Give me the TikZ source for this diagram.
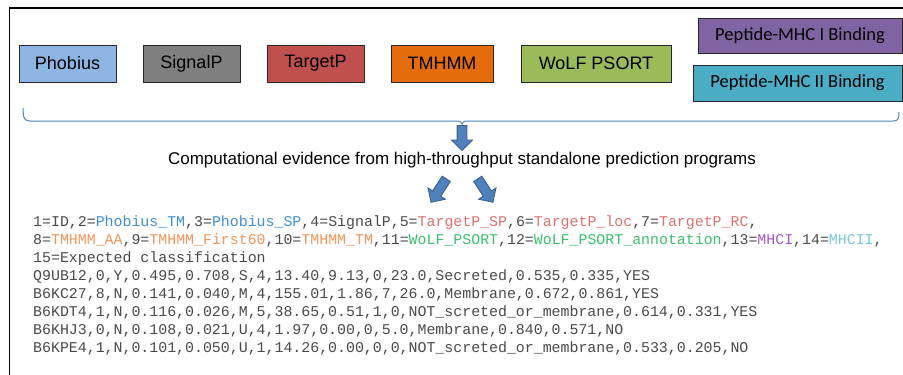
\documentclass[tikz,border=0pt]{standalone}
\usepackage{fontspec}
\setmainfont{Liberation Sans}
\newfontfamily\calfont{Carlito}
\newfontfamily\codefont{Liberation Mono}
\usetikzlibrary{positioning,shapes.arrows}
\definecolor{phobfill}{HTML}{8DB4E2}
\definecolor{sigfill}{HTML}{7F7F7F}
\definecolor{targfill}{HTML}{C0504D}
\definecolor{tmhfill}{HTML}{E46C0A}
\definecolor{wolffill}{HTML}{9BBB59}
\definecolor{mhcifill}{HTML}{8064A2}
\definecolor{mhciifill}{HTML}{4BACC6}
\definecolor{arrowblue}{HTML}{4F81BD}
\definecolor{arrowedge}{HTML}{385D8A}
\definecolor{codegrey}{HTML}{4A4A4A}
\definecolor{phobtxt}{HTML}{3F8FD2}
\definecolor{targtxt}{HTML}{E07070}
\definecolor{tmhtxt}{HTML}{F0965A}
\definecolor{wolftxt}{HTML}{3CBE6E}
\definecolor{mhcitxt}{HTML}{A05AC8}
\definecolor{mhciitxt}{HTML}{78C8DC}
\begin{document}
\begin{tikzpicture}[x=1pt,y=-1pt,
  tool/.style={shape=rectangle,draw=black!85,line width=1pt,minimum height=37pt,inner sep=0pt,node font={\fontsize{18}{18}\selectfont}},
  mhc/.style={tool,minimum height=36pt,node font={\calfont\fontsize{18.5}{18.5}\selectfont}},
  blockarrow/.style={single arrow,fill=arrowblue,draw=arrowedge,line width=0.8pt,inner xsep=0pt,inner ysep=4.5pt,single arrow head extend=5.5pt,minimum height=25pt},
  code/.style={anchor=base west,inner sep=0pt,text=codegrey,node font={\codefont\fontsize{14.9}{18}\selectfont}}]
\useasboundingbox (0,0) rectangle (903,375);
\clip (0,0) rectangle (903,375);
\draw[line width=1.5pt] (9.5,8) rectangle (920,390);

\node[tool,fill=phobfill,minimum width=97pt] (phob) at (67.5,63.5) {Phobius};
\node[tool,fill=sigfill,minimum width=97pt,right=26pt of phob] (sigp) {SignalP};
\node[tool,fill=targfill,minimum width=97pt,right=26pt of sigp] (targ) {TargetP};
\node[tool,fill=tmhfill,minimum width=102pt,right=26pt of targ] (tmh) {TMHMM};
\node[tool,fill=wolffill,minimum width=150pt,right=27pt of tmh] (wolf) {WoLF PSORT};
\node[mhc,fill=mhcifill,minimum width=204pt,minimum height=35pt] (mhci) at (800,35.5) {Peptide-MHC I Binding};
\node[mhc,fill=mhciifill,minimum width=209pt] (mhcii) at (797.5,83) {Peptide-MHC II Binding};

\draw[arrowblue,line width=1pt] (23,108) .. controls (23,119) and (25,121) .. (30,121)
  -- (457,121) .. controls (460,121) .. (462,124) .. controls (464,121) .. (467,121)
  -- (893,121) .. controls (898,121) and (899,119) .. (899,112);

\node[blockarrow,rotate=-90] (down) at (462,135.5) {};
\node[anchor=base,inner sep=0pt,node font={\fontsize{17}{17}\selectfont}] (evid) at (462,164)
  {Computational evidence from high-throughput standalone prediction programs};
\node[blockarrow,rotate=-123,minimum height=28pt] (left) at (440,188.5) {};
\node[blockarrow,rotate=-57,minimum height=28pt] (right) at (484,188.5) {};

\node[code] (l1) at (33,226) {1=ID,2=\textcolor{phobtxt}{Phobius\_TM},3=\textcolor{phobtxt}{Phobius\_SP},4=SignalP,5=\textcolor{targtxt}{TargetP\_SP},6=\textcolor{targtxt}{TargetP\_loc},7=\textcolor{targtxt}{TargetP\_RC},};
\node[code] (l2) at ([yshift=-18pt]l1.base west) {8=\textcolor{tmhtxt}{TMHMM\_AA},9=\textcolor{tmhtxt}{TMHMM\_First60},10=\textcolor{tmhtxt}{TMHMM\_TM},11=\textcolor{wolftxt}{WoLF\_PSORT},12=\textcolor{wolftxt}{WoLF\_PSORT\_annotation},13=\textcolor{mhcitxt}{MHCI},14=\textcolor{mhciitxt}{MHCII},};
\node[code] (l3) at ([yshift=-18pt]l2.base west) {15=Expected classification};
\node[code] (l4) at ([yshift=-18pt]l3.base west) {Q9UB12,0,Y,0.495,0.708,S,4,13.40,9.13,0,23.0,Secreted,0.535,0.335,YES};
\node[code] (l5) at ([yshift=-18pt]l4.base west) {B6KC27,8,N,0.141,0.040,M,4,155.01,1.86,7,26.0,Membrane,0.672,0.861,YES};
\node[code] (l6) at ([yshift=-18pt]l5.base west) {B6KDT4,1,N,0.116,0.026,M,5,38.65,0.51,1,0,NOT\_screted\_or\_membrane,0.614,0.331,YES};
\node[code] (l7) at ([yshift=-18pt]l6.base west) {B6KHJ3,0,N,0.108,0.021,U,4,1.97,0.00,0,5.0,Membrane,0.840,0.571,NO};
\node[code] (l8) at ([yshift=-18pt]l7.base west) {B6KPE4,1,N,0.101,0.050,U,1,14.26,0.00,0,0,NOT\_screted\_or\_membrane,0.533,0.205,NO};
\end{tikzpicture}
\end{document}
